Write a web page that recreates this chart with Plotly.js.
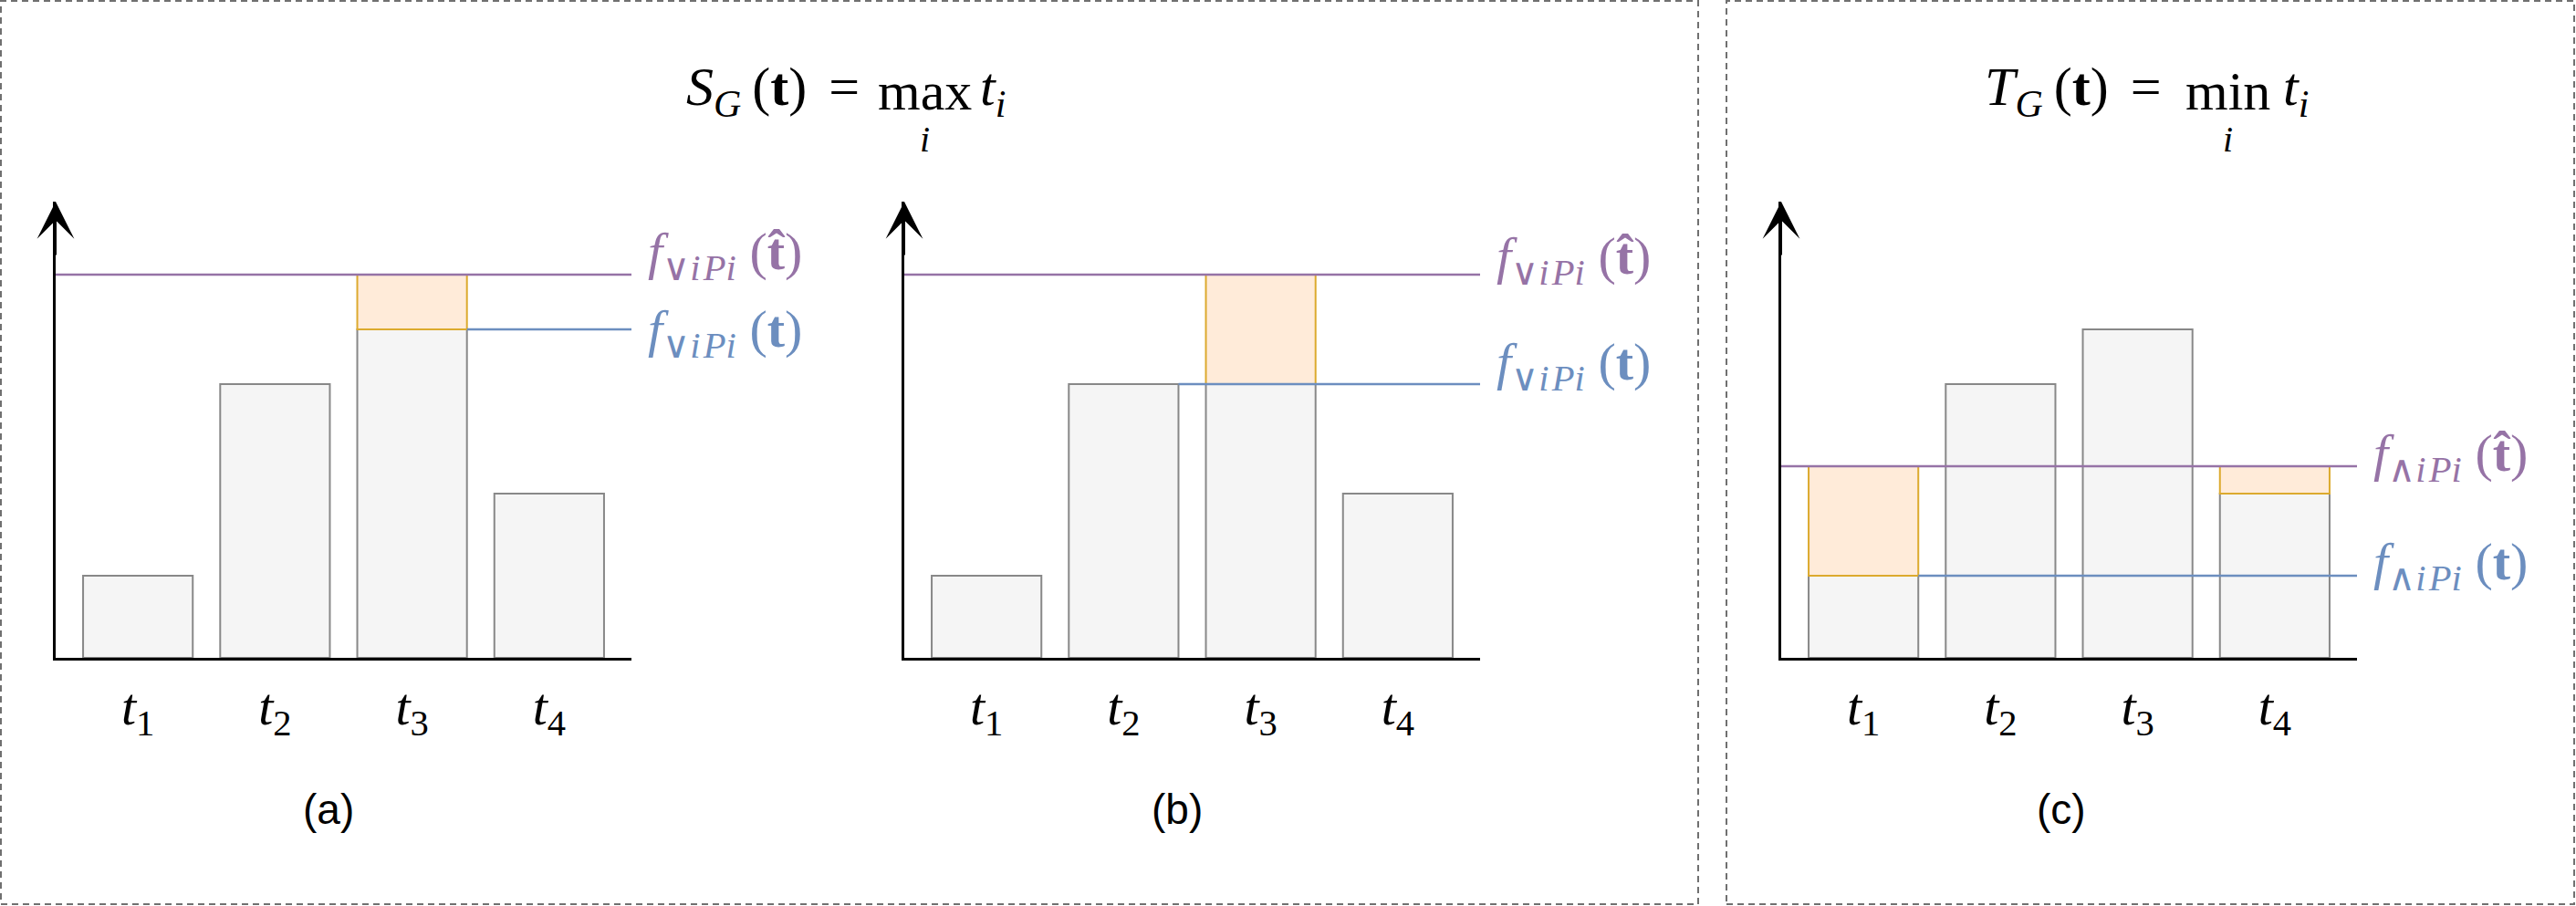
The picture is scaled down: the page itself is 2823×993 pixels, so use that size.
<!DOCTYPE html>
<html>
<head>
<meta charset="utf-8">
<script src="https://cdn.plot.ly/plotly-3.0.1.min.js"></script>
<style>
  html, body { margin: 0; padding: 0; background: #fff; }
  #chart { width: 2823px; height: 993px; }
</style>
</head>
<body>
<div id="chart"></div>
<script>
// values (bar heights in arbitrary units)
const taskLabels = ["1", "2", "3", "4"];
const truthA = [3, 10, 12, 6];
const truthB = [3, 10, 10, 6];
const truthC = [3, 10, 12, 6];
// level of f(t-hat) in each panel
const targetA = 14;
const targetB = 14;
const targetC = 7;
// bars that get the orange "gap" box
const gapIdxA = [2];
const gapIdxB = [2];
const gapIdxC = [0, 3];

const W = 2823, H = 993;
const px = (x) => x / W;
const py = (y) => 1 - y / H;

const X_MIN = -0.6, X_MAX = 3.6, Y_MAX = 16.67, BAR_W = 0.8;
const PURPLE = "#9673a6", BLUE = "#6c8ebf";
const SERIF = "Liberation Serif";

// build traces for one panel
function panelTraces(truth, target, gapIdx, useMin, ax) {
  const xs = truth.map((_, i) => i);
  const f = useMin ? Math.min(...truth) : Math.max(...truth);
  const fIdx = truth.indexOf(f);
  const base = gapIdx.map((i) => truth[i]);
  return [
    {
      type: "bar", x: xs, y: truth, width: BAR_W,
      marker: { color: "#f5f5f5", line: { color: "#888888", width: 2 } },
      xaxis: "x" + ax, yaxis: "y" + ax, hoverinfo: "skip",
    },
    {
      type: "bar", x: gapIdx, base: base, y: base.map((b) => target - b), width: BAR_W,
      marker: { color: "#ffebd9", line: { color: "#dcaa2e", width: 2 } },
      xaxis: "x" + ax, yaxis: "y" + ax, hoverinfo: "skip",
    },
    {
      type: "scatter", mode: "lines", x: [X_MIN, X_MAX], y: [target, target],
      line: { color: PURPLE, width: 2.5 }, xaxis: "x" + ax, yaxis: "y" + ax, hoverinfo: "skip",
    },
    {
      type: "scatter", mode: "lines", x: [fIdx + BAR_W / 2, X_MAX], y: [f, f],
      line: { color: BLUE, width: 2.5 }, xaxis: "x" + ax, yaxis: "y" + ax, hoverinfo: "skip",
    },
  ];
}

const data = [
  ...panelTraces(truthA, targetA, gapIdxA, false, ""),
  ...panelTraces(truthB, targetB, gapIdxB, false, "2"),
  ...panelTraces(truthC, targetC, gapIdxC, true, "3"),
];

function xAxis(left, anchor) {
  return {
    domain: [px(left), px(left + 631)], anchor: anchor,
    range: [X_MIN, X_MAX], showgrid: false, zeroline: false,
    showline: true, linecolor: "#000", linewidth: 3, ticks: "",
    tickvals: taskLabels.map((_, i) => i),
    ticktext: taskLabels.map((s) => "<i>t</i><sub>" + s + "</sub>"),
    tickfont: { family: SERIF, size: 58, color: "#000" },
    fixedrange: true,
  };
}
function yAxis(anchor) {
  return {
    domain: [py(721), py(221)], anchor: anchor,
    range: [0, Y_MAX], showgrid: false, zeroline: false,
    showline: true, linecolor: "#000", linewidth: 3, ticks: "",
    showticklabels: false, fixedrange: true,
  };
}

function arrow(ax) {
  return {
    xref: "x" + ax, yref: "y" + ax, axref: "x" + ax, ayref: "y" + ax,
    x: X_MIN, y: Y_MAX, ax: X_MIN, ay: Y_MAX - 2, text: "",
    showarrow: true, arrowhead: 3, arrowsize: 3.4, arrowwidth: 2, arrowcolor: "#000",
  };
}

function lineLabel(ax, y, op, hat, color, yshift) {
  const t = hat ? "<b>t\u0302</b>" : "<b>t</b>";
  return {
    xref: "x" + ax, yref: "y" + ax, x: X_MAX, y: y,
    xanchor: "left", yanchor: "middle", xshift: 16, yshift: yshift,
    text: "<i>f</i><sub><span style=\"font-family:DejaVu Sans;font-weight:200\">" + op +
      "</span><i>i</i>\u200a<i>P</i><i>i</i></sub> (" + t + ")",
    showarrow: false, font: { family: SERIF, size: 58, color: color },
  };
}

function txt(x, y, text, anchor, size, family) {
  return {
    xref: "paper", yref: "paper", x: px(x), y: py(y), text: text,
    xanchor: anchor, yanchor: "middle", showarrow: false,
    font: { family: family || SERIF, size: size, color: "#000" },
  };
}

const annotations = [
  arrow(""), arrow("2"), arrow("3"),
  lineLabel("", targetA, "\u2228", true, PURPLE, 21),
  lineLabel("", Math.max(...truthA), "\u2228", false, BLUE, -4),
  lineLabel("2", targetB, "\u2228", true, PURPLE, 16),
  lineLabel("2", Math.max(...truthB), "\u2228", false, BLUE, 20),
  lineLabel("3", targetC, "\u2227", true, PURPLE, 10),
  lineLabel("3", Math.min(...truthC), "\u2227", false, BLUE, 11),
  // titles
  txt(944, 100, "<i>S</i><sub><i>G</i></sub>\u2009(<b>t</b>)\u2009\u2009=", "right", 60),
  txt(1013, 100, "max", "center", 60),
  txt(1013, 152, "<i>i</i>", "center", 40),
  txt(1072, 100, "<i>t</i><sub><i>i</i></sub>", "left", 60),
  txt(2371, 100, "<i>T</i><sub><i>G</i></sub>\u2009(<b>t</b>)\u2009\u2009=", "right", 60),
  txt(2441, 100, "min", "center", 60),
  txt(2441, 152, "<i>i</i>", "center", 40),
  txt(2500, 100, "<i>t</i><sub><i>i</i></sub>", "left", 60),
  // panel captions
  txt(360, 887, "(a)", "center", 46, "Liberation Sans"),
  txt(1290, 887, "(b)", "center", 46, "Liberation Sans"),
  txt(2259, 887, "(c)", "center", 46, "Liberation Sans"),
];

const border = { color: "#707070", width: 2, dash: "7px,5px" };
const shapes = [
  { type: "rect", xref: "paper", yref: "paper", x0: px(1), x1: px(1861), y0: py(991), y1: py(1), line: border },
  { type: "rect", xref: "paper", yref: "paper", x0: px(1892), x1: px(2821), y0: py(991), y1: py(1), line: border },
];

const layout = {
  width: W, height: H,
  margin: { l: 0, r: 0, t: 0, b: 0, pad: 0 },
  paper_bgcolor: "#fff", plot_bgcolor: "#fff",
  showlegend: false, barmode: "overlay",
  xaxis: xAxis(61, "y"), yaxis: yAxis("x"),
  xaxis2: xAxis(991, "y2"), yaxis2: yAxis("x2"),
  xaxis3: xAxis(1952, "y3"), yaxis3: yAxis("x3"),
  annotations: annotations,
  shapes: shapes,
};

Plotly.newPlot("chart", data, layout, { staticPlot: true });
</script>
</body>
</html>
